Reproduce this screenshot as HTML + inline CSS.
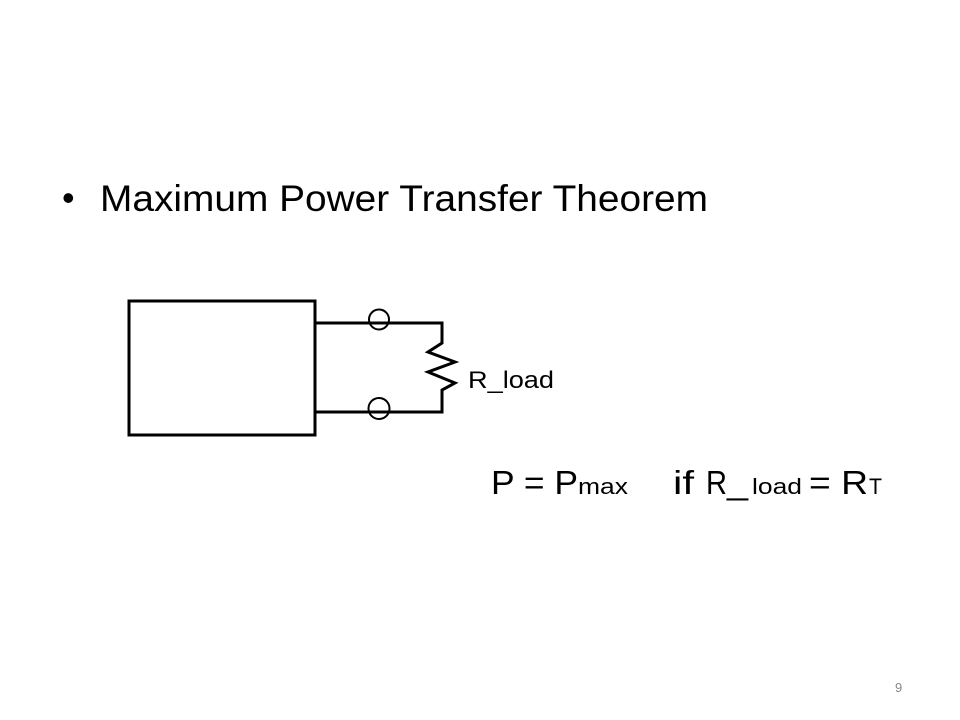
<!DOCTYPE html>
<html><head><meta charset="utf-8"><style>html,body{margin:0;padding:0;background:#fff}svg{display:block}</style></head>
<body>
<svg width="960" height="720" viewBox="0 0 960 720" xmlns="http://www.w3.org/2000/svg" font-family="Liberation Sans, sans-serif" fill="#000">
<text x="62" y="210" font-size="36">•</text>
<text x="100" y="211" font-size="37" textLength="608" lengthAdjust="spacingAndGlyphs">Maximum Power Transfer Theorem</text>
<g fill="none" stroke="#000" stroke-width="3">
<rect x="129" y="301" width="186" height="134"/>
<polyline points="315,323 442,323 442,343 428,352 455,362 428,372 455,383 442,390 442,412 315,412" stroke-linejoin="miter"/>
</g>
<g fill="none" stroke="#000" stroke-width="2">
<circle cx="379" cy="319.5" r="10"/>
<circle cx="379" cy="408.5" r="10.5"/>
</g>
<text x="468" y="388" font-size="24" textLength="86" lengthAdjust="spacingAndGlyphs">R_load</text>
<text x="491" y="494" font-size="33" textLength="87" lengthAdjust="spacingAndGlyphs">P = P</text>
<text x="578" y="494" font-size="22" textLength="50" lengthAdjust="spacingAndGlyphs">max</text>
<text x="673" y="494" font-size="33" textLength="21" lengthAdjust="spacingAndGlyphs">if</text>
<text x="706" y="494" font-size="33" textLength="21" lengthAdjust="spacingAndGlyphs">R</text>
<text x="727" y="494" font-size="33" textLength="21" lengthAdjust="spacingAndGlyphs">_</text>
<text x="752" y="494" font-size="22" textLength="50" lengthAdjust="spacingAndGlyphs">load</text>
<text x="809" y="494" font-size="33" textLength="59" lengthAdjust="spacingAndGlyphs">= R</text>
<text x="869" y="494" font-size="22" textLength="13" lengthAdjust="spacingAndGlyphs">T</text>
<text x="895" y="692" font-size="13" fill="#888">9</text>
</svg>
</body></html>
